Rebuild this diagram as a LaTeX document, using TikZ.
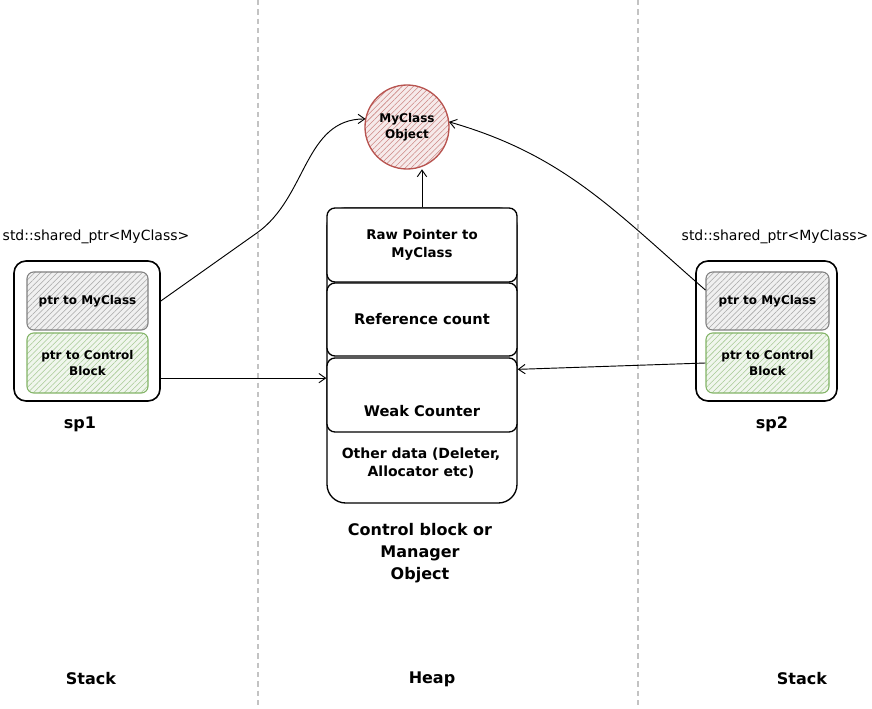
\documentclass[tikz,border=0pt]{standalone}
\usepackage{fontspec}
\setmainfont{DejaVu Sans}
\usetikzlibrary{arrows.meta,patterns.meta}
\definecolor{objred}{RGB}{184,84,80}
\definecolor{ptrgreen}{RGB}{130,179,102}
\definecolor{sepgray}{RGB}{195,195,195}

\begin{document}
\begin{tikzpicture}
  [x=0.75pt,y=-0.75pt,
   every node/.style={align=center,font=\bfseries\fontsize{11}{14}\selectfont},
   cell/.style={draw,line width=1pt,rounded corners=6pt,fill=white,minimum width=142.5pt},
   ptr/.style={draw,line width=0.8pt,rounded corners=5pt,minimum width=90.75pt,minimum height=43.5pt,
     font=\bfseries\fontsize{9}{12}\selectfont},
   hatch/.style={preaction={fill=#1!12},pattern={Lines[angle=45,distance=3pt,line width=0.4pt]},pattern color=#1!70},
   holder/.style={draw,line width=1.2pt,rounded corners=9pt,minimum height=105pt},
   sep/.style={sepgray,line width=1pt,dash pattern=on 4pt off 3pt},
   arr/.style={-{Straight Barb[length=5pt,width=7pt]},line width=0.7pt}]
  \useasboundingbox (0,0) rectangle (872,709);
  \draw[sep] (258,0) -- (258,709);
  \draw[sep] (638,0) -- (638,709);

  \node[circle,draw=objred,line width=1pt,hatch=objred,minimum size=63pt,
    font=\bfseries\fontsize{9}{12}\selectfont] (nobj) at (407,127) {MyClass\\Object};

  \node[cell,minimum height=221.25pt,rounded corners=14pt] (ncb) at (422,355.5) {};
  \node[cell,minimum height=55.5pt,font=\bfseries\fontsize{10}{14}\selectfont] (nraw) at (422,245) {Raw Pointer to\\MyClass};
  \node[cell,minimum height=54.75pt] (nref) at (422,319.5) {Reference count};
  \node[cell,minimum height=55.5pt] (nweak) at (422,395) {};
  \node (tweak) at (422,411) {Weak Counter};
  \node[font=\bfseries\fontsize{10.5}{14}\selectfont] (nother) at (421,463) {Other data (Deleter,\\Allocator etc)};
  \node[font=\bfseries\fontsize{12}{16.5}\selectfont] (ncap) at (420,553) {Control block or\\Manager\\Object};

  \node[holder,minimum width=109.5pt] (nsp1) at (87,331) {};
  \node[ptr,draw=gray,hatch=gray] (nsp1a) at (87.5,301) {ptr to MyClass};
  \node[ptr,draw=ptrgreen,hatch=ptrgreen,minimum height=45pt] (nsp1b) at (87.5,363) {ptr to Control\\Block};
  \node[font=\fontsize{10.5}{12}\selectfont] (ntype1) at (96,237) {std::shared\_ptr<MyClass>};
  \node[font=\bfseries\fontsize{12}{14}\selectfont] (nname1) at (80,424) {sp1};

  \node[holder,minimum width=105.75pt] (nsp2) at (766.5,331) {};
  \node[ptr,draw=gray,hatch=gray,minimum width=92.25pt] (nsp2a) at (767.5,301) {ptr to MyClass};
  \node[ptr,draw=ptrgreen,hatch=ptrgreen,minimum width=92.25pt,minimum height=45pt] (nsp2b) at (767.5,363) {ptr to Control\\Block};
  \node[font=\fontsize{10.5}{12}\selectfont] (ntype2) at (775,237) {std::shared\_ptr<MyClass>};
  \node[font=\bfseries\fontsize{12}{14}\selectfont] (nname2) at (772,424) {sp2};

  \node[font=\bfseries\fontsize{12}{14}\selectfont] (nstack1) at (91,679) {Stack};
  \node[font=\bfseries\fontsize{12}{14}\selectfont] (nheap) at (432,679) {Heap};
  \node[font=\bfseries\fontsize{12}{14}\selectfont] (nstack2) at (802,679) {Stack};

  \draw[arr] (nsp1a -| nsp1.east) -- ++(96,-68) to [out=35,in=180] (nobj.169);
  \draw[arr] (nsp2a.170) to [out=139,in=-16] (nobj.7);
  \foreach \from/\to in {nsp1.east |- nweak.170/nweak.170, nsp2b.west/nweak.15, nraw.north/nraw.north |- nobj.south}
    \draw[arr] (\from) -- (\to);
\end{tikzpicture}
\end{document}
